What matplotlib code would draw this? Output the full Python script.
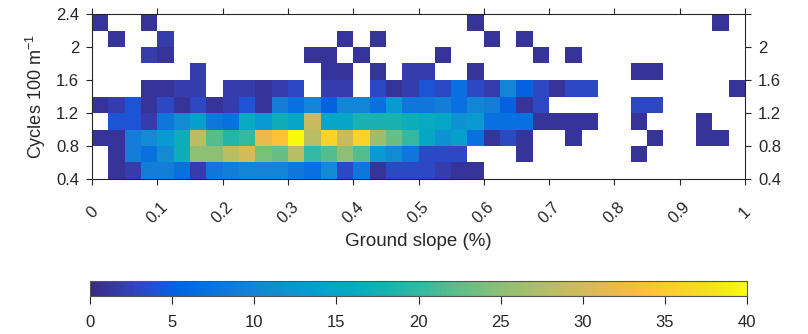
import numpy as np
import matplotlib
matplotlib.use("Agg")
from matplotlib import pyplot as plt
from matplotlib.colors import LinearSegmentedColormap

plt.rcParams['font.family'] = ['Liberation Sans', 'DejaVu Sans']
plt.rcParams['mathtext.default'] = 'regular'

# parula-like colormap
parula_data = [
    [0.2081, 0.1663, 0.5292], [0.2116, 0.1898, 0.5777], [0.2123, 0.2138, 0.6270],
    [0.2081, 0.2386, 0.6771], [0.1959, 0.2645, 0.7279], [0.1707, 0.2919, 0.7792],
    [0.1253, 0.3242, 0.8303], [0.0591, 0.3598, 0.8683], [0.0117, 0.3875, 0.8820],
    [0.0060, 0.4086, 0.8828], [0.0165, 0.4266, 0.8786], [0.0329, 0.4430, 0.8720],
    [0.0498, 0.4586, 0.8641], [0.0629, 0.4737, 0.8554], [0.0723, 0.4887, 0.8467],
    [0.0779, 0.5040, 0.8384], [0.0793, 0.5200, 0.8312], [0.0749, 0.5375, 0.8263],
    [0.0641, 0.5570, 0.8240], [0.0488, 0.5772, 0.8228], [0.0343, 0.5966, 0.8199],
    [0.0265, 0.6137, 0.8135], [0.0239, 0.6287, 0.8038], [0.0231, 0.6418, 0.7913],
    [0.0228, 0.6535, 0.7768], [0.0267, 0.6642, 0.7607], [0.0384, 0.6743, 0.7436],
    [0.0590, 0.6838, 0.7254], [0.0843, 0.6928, 0.7062], [0.1133, 0.7015, 0.6859],
    [0.1453, 0.7098, 0.6646], [0.1801, 0.7177, 0.6424], [0.2178, 0.7250, 0.6193],
    [0.2586, 0.7317, 0.5954], [0.3022, 0.7376, 0.5712], [0.3482, 0.7424, 0.5473],
    [0.3953, 0.7459, 0.5244], [0.4420, 0.7481, 0.5033], [0.4871, 0.7491, 0.4840],
    [0.5300, 0.7491, 0.4661], [0.5709, 0.7485, 0.4494], [0.6099, 0.7473, 0.4337],
    [0.6473, 0.7456, 0.4188], [0.6834, 0.7435, 0.4044], [0.7184, 0.7411, 0.3905],
    [0.7525, 0.7384, 0.3768], [0.7858, 0.7356, 0.3633], [0.8185, 0.7327, 0.3498],
    [0.8507, 0.7299, 0.3360], [0.8824, 0.7274, 0.3217], [0.9139, 0.7258, 0.3063],
    [0.9450, 0.7261, 0.2886], [0.9739, 0.7314, 0.2666], [0.9938, 0.7455, 0.2403],
    [0.9990, 0.7653, 0.2164], [0.9955, 0.7861, 0.1967], [0.9880, 0.8066, 0.1794],
    [0.9789, 0.8271, 0.1633], [0.9697, 0.8481, 0.1475], [0.9626, 0.8705, 0.1309],
    [0.9589, 0.8949, 0.1132], [0.9598, 0.9218, 0.0948], [0.9661, 0.9514, 0.0755],
    [0.9763, 0.9831, 0.0538]]
parula = LinearSegmentedColormap.from_list('parula', parula_data)

# bin edges
slope_edges = np.linspace(0, 1, 41)      # ground slope (%)
freq_edges = np.linspace(0.4, 2.4, 11)   # cycles per 100 m

# counts per bin, one row per frequency band (bottom to top)
counts = [
    # 0.4-0.6
    [0, 1, 2, 9, 9, 7, 2, 8, 9, 10, 10, 10, 8, 7, 11, 3, 8, 1, 3, 3,
     3, 2, 1, 1, 0, 0, 0, 0, 0, 0, 0, 0, 0, 0, 0, 0, 0, 0, 0, 0],
    # 0.6-0.8
    [0, 1, 9, 7, 11, 17, 25, 25, 28, 30, 24, 23, 28, 20, 22, 25, 22, 13, 11, 8,
     3, 3, 3, 0, 0, 0, 1, 0, 0, 0, 0, 0, 0, 1, 0, 0, 0, 0, 0, 0],
    # 0.8-1.0
    [1, 1, 9, 11, 13, 17, 28, 22, 19, 20, 32, 34, 40, 28, 36, 29, 36, 26, 23, 20,
     15, 12, 14, 7, 1, 3, 1, 0, 0, 1, 0, 0, 0, 0, 1, 0, 0, 1, 1, 0],
    # 1.0-1.2
    [0, 4, 4, 2, 8, 11, 14, 8, 7, 16, 13, 17, 15, 29, 15, 15, 18, 18, 18, 17,
     16, 15, 12, 13, 7, 7, 7, 1, 1, 1, 1, 0, 0, 1, 0, 0, 0, 1, 0, 0],
    # 1.2-1.4
    [1, 2, 4, 1, 3, 1, 3, 1, 2, 4, 1, 9, 7, 10, 5, 10, 10, 7, 13, 8,
     8, 9, 7, 10, 9, 5, 1, 3, 0, 0, 0, 0, 0, 3, 3, 0, 0, 0, 0, 0],
    # 1.4-1.6
    [0, 0, 0, 1, 1, 2, 2, 0, 2, 2, 1, 2, 3, 0, 2, 2, 0, 3, 1, 2,
     4, 3, 7, 3, 2, 10, 5, 3, 1, 3, 3, 0, 0, 0, 0, 0, 0, 0, 0, 1],
    # 1.6-1.8
    [0, 0, 0, 0, 0, 0, 2, 0, 0, 0, 0, 0, 0, 0, 1, 1, 0, 1, 0, 2,
     2, 0, 0, 1, 0, 0, 0, 0, 0, 0, 0, 0, 0, 1, 1, 0, 0, 0, 0, 0],
    # 1.8-2.0
    [0, 0, 0, 2, 1, 0, 0, 0, 0, 0, 0, 0, 0, 1, 1, 0, 1, 0, 0, 0,
     0, 1, 0, 0, 0, 0, 0, 1, 0, 1, 0, 0, 0, 0, 0, 0, 0, 0, 0, 0],
    # 2.0-2.2
    [0, 1, 0, 0, 2, 0, 0, 0, 0, 0, 0, 0, 0, 0, 0, 1, 0, 1, 0, 0,
     0, 0, 0, 0, 1, 0, 1, 0, 0, 0, 0, 0, 0, 0, 0, 0, 0, 0, 0, 0],
    # 2.2-2.4
    [1, 0, 0, 1, 0, 0, 0, 0, 0, 0, 0, 0, 0, 0, 0, 0, 0, 0, 0, 0,
     0, 0, 0, 1, 0, 0, 0, 0, 0, 0, 0, 0, 0, 0, 0, 0, 0, 0, 1, 0],
]

x_ticks = np.arange(0, 1.01, 0.1)
x_labels = ['0', '0.1', '0.2', '0.3', '0.4', '0.5', '0.6', '0.7', '0.8', '0.9', '1']
y_ticks = [0.4, 0.8, 1.2, 1.6, 2.0, 2.4]
y_labels = ['0.4', '0.8', '1.2', '1.6', '2', '2.4']
cbar_ticks = [0, 5, 10, 15, 20, 25, 30, 35, 40]

axis_col = '#262626'

Z = np.ma.masked_equal(np.array(counts, dtype=float), 0)

fig = plt.figure(figsize=(8.08, 3.34), dpi=100)
ax = fig.add_axes([92 / 808, 1 - 179 / 334, 653 / 808, 165 / 334])
mesh = ax.pcolormesh(slope_edges, freq_edges, Z, cmap=parula, vmin=0, vmax=40,
                     shading='flat')

ax.set_xlim(0, 1)
ax.set_ylim(0.4, 2.4)
ax.set_xticks(x_ticks)
ax.set_xticklabels(x_labels, rotation=45, ha='center', va='center')
ax.set_yticks(y_ticks)
ax.set_yticklabels(y_labels)
ax.tick_params(axis='both', direction='out', length=4.3, width=0.8, colors=axis_col,
               labelsize=12, top=True, right=True, labelright=True)
ax.tick_params(axis='x', pad=20)
ax.tick_params(axis='y', pad=5)
ax.yaxis.get_major_ticks()[-1].label2.set_visible(False)
for s in ax.spines.values():
    s.set_color(axis_col)
    s.set_linewidth(0.8)

ax.set_xlabel('Ground slope (%)', fontsize=13.5, color=axis_col, va='center')
ax.xaxis.set_label_coords(0.5, (179 - 242) / 165)
ax.set_ylabel('Cycles 100 m$^{-1}$', fontsize=13, color=axis_col, va='center')
ax.yaxis.set_label_coords((36 - 92) / 653, 0.5)

cax = fig.add_axes([90 / 808, 1 - 296 / 334, 657 / 808, 15 / 334])
cb = fig.colorbar(mesh, cax=cax, orientation='horizontal', ticks=cbar_ticks)
cb.outline.set_edgecolor('#555555')
cb.outline.set_linewidth(0.8)
cax.tick_params(direction='out', length=5.5, width=0.8, colors=axis_col,
                labelsize=12, pad=8.5)

plt.savefig('out.png', dpi=100)
plt.close()
